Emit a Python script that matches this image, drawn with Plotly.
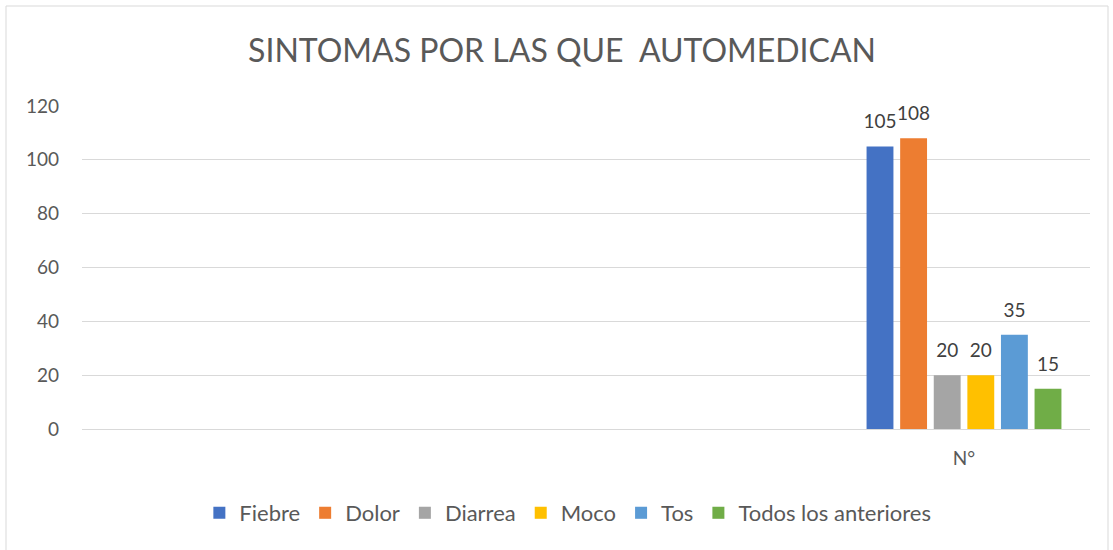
import plotly.graph_objects as go

categories = [0, 1, 2, 3]
tick_labels = ["", "", "", "N°"]
series_names = ["Fiebre", "Dolor", "Diarrea", "Moco", "Tos", "Todos los anteriores"]
series_values = [105, 108, 20, 20, 35, 15]
colors = ["#4472C4", "#ED7D31", "#A5A5A5", "#FFC000", "#5B9BD5", "#70AD47"]
bar_x = categories[-1]

font_fam = "Lato, 'Open Sans', sans-serif"
# invisible large spaces on both sides raise the outside label a little (Excel-like gap)
pad = "<span style='font-size:72px'>&nbsp;</span>"
fig = go.Figure()
for name, val, col in zip(series_names, series_values, colors):
    fig.add_trace(go.Bar(
        x=[bar_x], y=[val], name=name,
        marker=dict(color=col, line=dict(width=0)),
        text=[pad + str(val) + pad], textposition="outside", cliponaxis=False, constraintext="none",
        textfont=dict(size=19, color="#404040", family=font_fam),
    ))

W, H = 1113, 550
ml, mr, mt, mb = 82, 23, 106, 121
pw = W - ml - mr
ph = H - mt - mb

fig.update_layout(
    width=W, height=H,
    margin=dict(l=ml, r=mr, t=mt, b=mb),
    paper_bgcolor="white", plot_bgcolor="white",
    barmode="group", bargap=0.2, bargroupgap=0.2,
    font=dict(family=font_fam, color="#595959", size=19),
    title=dict(text="SINTOMAS POR LAS QUE  AUTOMEDICAN", x=0.505, xanchor="center",
               y=1 - 51 / H, yanchor="middle",
               font=dict(size=32, color="#595959", family=font_fam)),
    showlegend=True,
    legend=dict(orientation="h", x=0.482, xanchor="center", y=-(513 - (H - mb)) / ph, yanchor="middle",
                font=dict(size=22, color="#595959", family=font_fam), traceorder="normal",
                itemwidth=30),
    xaxis=dict(range=[-0.5, 3.5], tickmode="array", tickvals=categories, ticktext=tick_labels,
               showgrid=False, zeroline=False, showline=True, linecolor="#d9d9d9", linewidth=1,
               ticks="", ticklabelstandoff=12, tickfont=dict(size=19, color="#595959"),
               fixedrange=True),
    yaxis=dict(range=[0, 120], dtick=20, showgrid=True, gridcolor="#d9d9d9", gridwidth=1,
               zeroline=False, showline=False, ticks="", ticklabelstandoff=22,
               tickfont=dict(size=19, color="#595959")),
    shapes=[dict(type="rect", xref="paper", yref="paper",
                 x0=(6 - ml) / pw, x1=(1108 - ml) / pw,
                 y0=(H - mb - 560) / ph, y1=(H - mb - 6) / ph,
                 line=dict(color="#d9d9d9", width=1), fillcolor="rgba(0,0,0,0)", layer="below")],
)
fig.write_html("out.html", config={"displayModeBar": False},
               post_script="document.body.style.margin='0';document.body.style.overflow='hidden';")
